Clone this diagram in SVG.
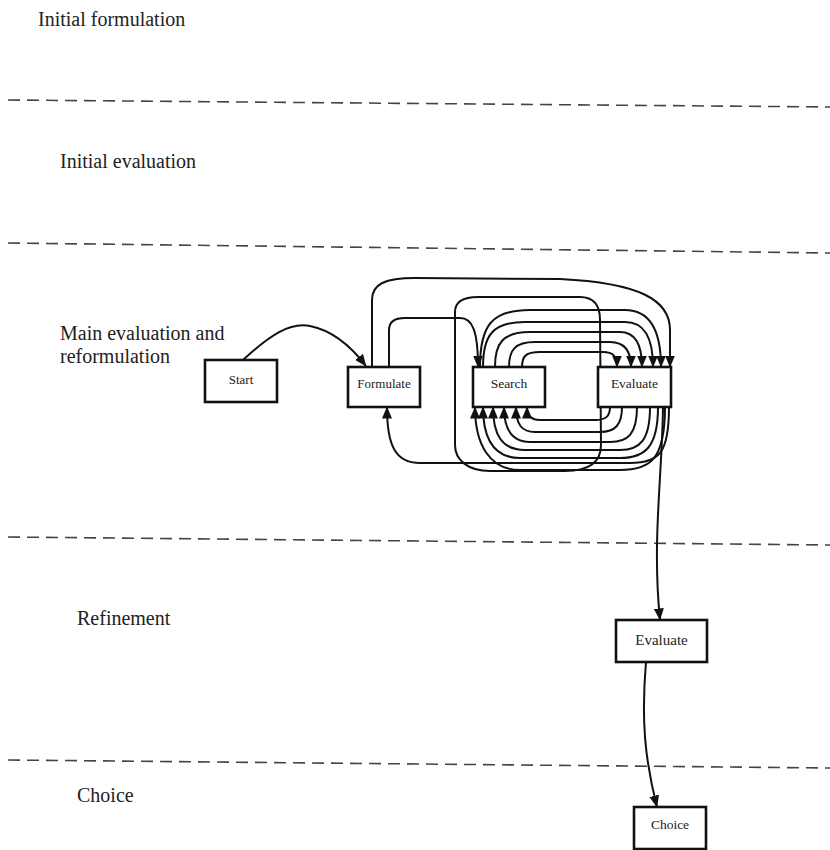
<svg xmlns="http://www.w3.org/2000/svg" width="830" height="850" viewBox="0 0 830 850">
  <style>
    .stage { font-family: "Liberation Serif", "Times New Roman", serif; font-size: 20px; fill: #222; }
    .divider { stroke: #444; stroke-width: 1.6; stroke-dasharray: 12 7; fill: none; }
    .box { fill: #fff; stroke: #111; stroke-width: 2.6; }
    .lbl { font-family: "Liberation Serif", "Times New Roman", serif; font-size: 13px; fill: #222; text-anchor: middle; }
    .edge { fill: none; stroke: #111; stroke-width: 2; }
    .arr { marker-end: url(#ah); }
  </style>
  <defs>
    <marker id="ah" viewBox="0 0 12 10" refX="11.5" refY="5" markerWidth="12" markerHeight="10" markerUnits="userSpaceOnUse" orient="auto">
      <path d="M0,0 L12,5 L0,10 z" fill="#111"/>
    </marker>
  </defs>

  <rect width="830" height="850" fill="#fff"/>

  <!-- stage bands -->
  <g id="stages">
    <text class="stage" x="38" y="26">Initial formulation</text>
    <line class="divider" x1="8" y1="100" x2="830" y2="107"/>
    <text class="stage" x="60" y="168">Initial evaluation</text>
    <line class="divider" x1="8" y1="243" x2="830" y2="253"/>
    <text class="stage" x="60" y="340">Main evaluation and</text>
    <text class="stage" x="60" y="363">reformulation</text>
    <line class="divider" x1="8" y1="537" x2="830" y2="545"/>
    <text class="stage" x="77" y="625">Refinement</text>
    <line class="divider" x1="8" y1="760" x2="830" y2="768"/>
    <text class="stage" x="77" y="802">Choice</text>
  </g>

  <!-- connectors -->
  <g id="connectors">
    <!-- start to formulate -->
    <path class="edge arr" d="M243,360 C270,335 290,322 310,326 C330,330 350,345 366,366"/>
    <!-- formulate to evaluate (outer loop) -->
    <path class="edge arr" d="M372,367 L372,300 C372,284 385,278 415,278 L560,279 C640,283 670,300 670,330 L670,367"/>
    <!-- formulate to search -->
    <path class="edge arr" d="M389,367 L389,330 C389,321 395,318 405,318 L460,318 C472,318 478,330 478,367"/>
    <!-- wide loop around search -->
    <path class="edge" d="M455,445 L455,312 C455,302 462,297 478,297 L580,297 C594,297 600,305 600,320 L601,445 C601,462 590,471 565,471 L490,471 C468,471 455,460 455,445 Z"/>
    <!-- search to evaluate, upper arcs -->
    <path class="edge arr" d="M522,367 C522,356 526,352 540,352 L603,352 C613,352 617,356 617,367"/>
    <path class="edge arr" d="M509,367 C509,350 515,342 535,342 L610,342 C624,342 631,350 631,367"/>
    <path class="edge arr" d="M495,367 C495,343 503,332 530,332 L620,332 C636,332 642,345 642,367"/>
    <path class="edge arr" d="M483,367 C483,335 493,322 525,322 L625,322 C645,322 653,338 653,367"/>
    <path class="edge arr" d="M480,367 C480,325 492,310 530,310 L625,310 C650,310 661,330 661,367"/>
    <!-- evaluate back to search, lower arcs -->
    <path class="edge arr" d="M610,407 C610,416 606,420 595,420 L540,420 C531,420 527,416 527,407"/>
    <path class="edge arr" d="M622,407 C622,425 615,432 600,432 L535,432 C522,432 516,425 516,407"/>
    <path class="edge arr" d="M637,407 C637,434 628,442 610,442 L530,442 C512,442 504,430 504,407"/>
    <path class="edge arr" d="M650,407 C650,440 640,450 620,450 L525,450 C502,450 493,435 493,407"/>
    <path class="edge arr" d="M658,407 C658,447 645,458 620,458 L520,458 C495,458 483,440 483,407"/>
    <path class="edge arr" d="M665,407 C665,460 650,470 620,470 L520,470 C490,470 475,445 475,407"/>
    <!-- evaluate back to formulate -->
    <path class="edge arr" d="M669,407 C669,452 660,463 630,463 L420,463 C395,463 387,445 387,407"/>
    <!-- evaluate to refinement evaluate -->
    <path class="edge arr" d="M663,407 C662,480 652,540 660,620"/>
    <!-- refinement evaluate to choice -->
    <path class="edge arr" d="M646,662 C641,720 645,760 657,807"/>
  </g>

  <!-- nodes -->
  <g id="node-start">
    <rect class="box" x="205" y="360" width="72" height="42"/>
    <text class="lbl" x="241" y="384">Start</text>
  </g>
  <g id="node-formulate">
    <rect class="box" x="348" y="367" width="72" height="40"/>
    <text class="lbl" x="384" y="388">Formulate</text>
  </g>
  <g id="node-search">
    <rect class="box" x="473" y="367" width="72" height="40"/>
    <text class="lbl" x="509" y="388" style="font-size:13.5px">Search</text>
  </g>
  <g id="node-evaluate">
    <rect class="box" x="598" y="367" width="73" height="40"/>
    <text class="lbl" x="634.5" y="388" style="font-size:13.5px">Evaluate</text>
  </g>
  <g id="node-evaluate-refine">
    <rect class="box" x="616" y="620" width="91" height="42"/>
    <text class="lbl" x="661.5" y="645" style="font-size:15px">Evaluate</text>
  </g>
  <g id="node-choice">
    <rect class="box" x="634" y="807" width="72" height="42"/>
    <text class="lbl" x="670" y="829" style="font-size:13.5px">Choice</text>
  </g>
</svg>
